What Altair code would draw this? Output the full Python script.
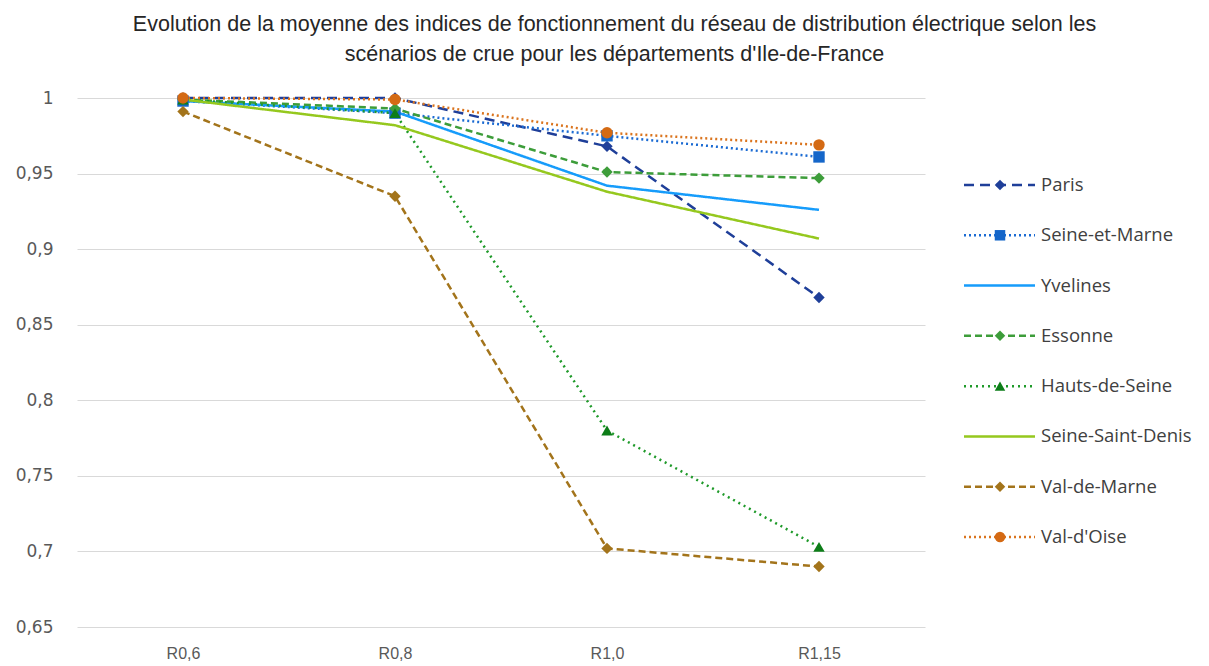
import altair as alt
import pandas as pd

scenarios = ["R0,6", "R0,8", "R1,0", "R1,15"]
series = ["Paris", "Seine-et-Marne", "Yvelines", "Essonne", "Hauts-de-Seine",
          "Seine-Saint-Denis", "Val-de-Marne", "Val-d'Oise"]

paris = [1.0, 1.0, 0.968, 0.868]
seine_et_marne = [0.998, 0.990, 0.975, 0.961]
yvelines = [0.998, 0.991, 0.942, 0.926]
essonne = [0.999, 0.993, 0.951, 0.947]
hauts_de_seine = [0.999, 0.990, 0.780, 0.703]
seine_saint_denis = [0.999, 0.982, 0.938, 0.907]
val_de_marne = [0.991, 0.935, 0.702, 0.690]
val_d_oise = [1.0, 0.999, 0.977, 0.969]

values = [paris, seine_et_marne, yvelines, essonne, hauts_de_seine,
          seine_saint_denis, val_de_marne, val_d_oise]

colors = ["#1f3f99", "#1b6bd3", "#169cfb", "#3d9d3a", "#1f9a2a",
          "#95c81e", "#a3741b", "#da741e"]
dashes = [[10, 6], [2, 3], [1, 0], [7, 4], [2, 4], [1, 0], [7, 4], [2, 3]]
marker_series = ["Paris", "Seine-et-Marne", "Essonne", "Hauts-de-Seine",
                 "Val-de-Marne", "Val-d'Oise"]
marker_shapes = ["diamond", "square", "diamond", "triangle-up", "diamond", "circle"]
marker_colors = ["#1f3f99", "#1566c9", "#3d9d3a", "#0d7d18", "#a3741b", "#d46a14"]

rows = []
for name, vals in zip(series, values):
    for sc, v in zip(scenarios, vals):
        rows.append({"serie": name, "scenario": sc, "valeur": v})
df = pd.DataFrame(rows)
legend_df = pd.DataFrame({"serie": series})

color_scale = alt.Scale(domain=series, range=colors)
dash_scale = alt.Scale(domain=series, range=dashes)
shape_scale = alt.Scale(domain=marker_series, range=marker_shapes)
mcolor_scale = alt.Scale(domain=marker_series, range=marker_colors)

x_enc = alt.X("scenario:O", sort=scenarios, title=None,
              scale=alt.Scale(paddingOuter=0.5),
              axis=alt.Axis(labelAngle=0, domain=False, ticks=False, grid=False,
                            labelFont="Liberation Sans", labelFontSize=16,
                            labelColor="#595959", labelPadding=18))
y_enc = alt.Y("valeur:Q", title=None,
              scale=alt.Scale(domain=[0.65, 1.0], nice=False, zero=False),
              axis=alt.Axis(values=[0.65, 0.7, 0.75, 0.8, 0.85, 0.9, 0.95, 1.0],
                            labelExpr="replace(format(datum.value, '.2~f'), '.', ',')",
                            domain=False, ticks=False, gridColor="#d9d9d9",
                            labelFont="DejaVu Sans", labelFontSize=17,
                            labelColor="#595959", labelPadding=24,
                            minExtent=64, maxExtent=64))

lines = alt.Chart(df).mark_line(strokeWidth=2.5).encode(
    x=x_enc, y=y_enc,
    color=alt.Color("serie:N", scale=color_scale, legend=None),
    strokeDash=alt.StrokeDash("serie:N", scale=dash_scale, legend=None),
    detail="serie:N",
)
points = alt.Chart(df).transform_filter(
    alt.FieldOneOfPredicate(field="serie", oneOf=marker_series)
).mark_point(filled=True, opacity=1, size=130).encode(
    x=alt.X("scenario:O", sort=scenarios),
    y="valeur:Q",
    shape=alt.Shape("serie:N", scale=shape_scale, legend=None),
    color=alt.Color("serie:N", scale=mcolor_scale, legend=None),
)
main = alt.layer(lines, points).resolve_scale(color="independent").properties(
    width=848, height=529)

ly = alt.Y("serie:N", sort=series, axis=None,
           scale=alt.Scale(type="point", range=[87, 439], padding=0))
leg_lines = alt.Chart(legend_df).mark_rule(strokeWidth=2.5).encode(
    x=alt.value(9), x2=alt.value(80), y=ly,
    color=alt.Color("serie:N", scale=color_scale, legend=None),
    strokeDash=alt.StrokeDash("serie:N", scale=dash_scale, legend=None),
)
leg_points = alt.Chart(legend_df).transform_filter(
    alt.FieldOneOfPredicate(field="serie", oneOf=marker_series)
).mark_point(filled=True, opacity=1, size=110).encode(
    x=alt.value(45), y=ly,
    shape=alt.Shape("serie:N", scale=shape_scale, legend=None),
    color=alt.Color("serie:N", scale=mcolor_scale, legend=None),
)
leg_text = alt.Chart(legend_df).mark_text(
    align="left", baseline="middle", font="Open Sans", fontSize=18.5,
    color="#404040"
).encode(x=alt.value(86), y=ly, text="serie:N")
legend = alt.layer(leg_lines, leg_points, leg_text).resolve_scale(
    color="independent").properties(width=245, height=529)

chart = alt.hconcat(main, legend, spacing=30).properties(
    title=alt.TitleParams(
        ["Evolution de la moyenne des indices de fonctionnement du réseau de distribution électrique selon les",
         "scénarios de crue pour les départements d'Ile-de-France"],
        font="Liberation Sans", fontSize=21.5, fontWeight="normal",
        color="#262626", lineHeight=30, anchor="middle", offset=24, dx=8),
    padding={"left": 5, "top": 5, "right": 0, "bottom": 5},
).configure_view(stroke=None).configure_concat(spacing=30)

chart.save("out.html", embed_options={"renderer": "svg", "actions": False})
